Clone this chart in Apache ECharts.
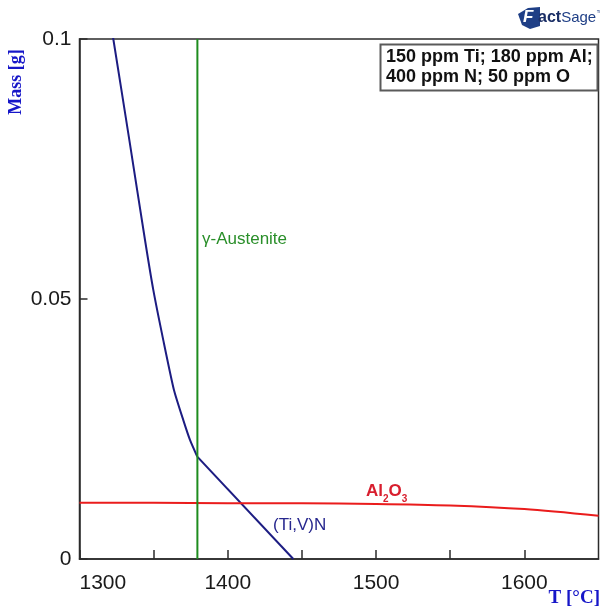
<!DOCTYPE html>
<html>
<head>
<meta charset="utf-8">
<script src="https://cdn.jsdelivr.net/npm/echarts@6/dist/echarts.min.js"></script>
<style>
  html, body { margin: 0; padding: 0; background: #fff; }
  #chart { width: 600px; height: 614px; }
</style>
</head>
<body>
<div id="chart"></div>
<script>
// Temperature axis ticks and mass axis ticks
const tempTicks = [1300, 1400, 1500, 1600];
const massTicks = [0, 0.05, 0.1];

// (Ti,V)N precipitate mass vs temperature [°C, g], above the austenite boundary
const tivnHighT    = [1320,  1322.8, 1333.6, 1344.2, 1349.8, 1356.5, 1363.7, 1370.0, 1374.5, 1379.4];
const tivnHighMass = [0.105, 0.1,    0.0806, 0.0613, 0.0517, 0.0421, 0.0325, 0.0267, 0.0229, 0.0197];
// ... and below it
const tivnLowT    = [1379.4, 1444.2];
const tivnLowMass = [0.0197, 0];

// Al2O3 inclusion mass vs temperature
const aloT    = [1300,   1350,   1400,   1450,   1500,   1550,   1600,   1650];
const aloMass = [0.0108, 0.0108, 0.0107, 0.0107, 0.0106, 0.0103, 0.0096, 0.0083];

// gamma-austenite boundary temperature
const austeniteT = 1379.5;
const austeniteSpan = [0, 0.1];

const pairs = (xs, ys) => xs.map((x, i) => [x, ys[i]]);

const chart = echarts.init(document.getElementById('chart'));
const axisColor = '#2b2b2b';
const titleBlue = '#1616c8';
const navy = '#1c1c82';

chart.setOption({
  animation: false,
  grid: { left: 79.5, right: 1.5, top: 39, bottom: 55, show: true, borderColor: axisColor, borderWidth: 1.5 },
  xAxis: {
    type: 'value', min: 1300, max: 1650, interval: 50,
    axisLine: { lineStyle: { color: axisColor, width: 1.5 } },
    axisTick: { inside: true, length: 9, lineStyle: { color: axisColor, width: 1.5 } },
    splitLine: { show: false },
    axisLabel: {
      showMaxLabel: false, alignMinLabel: 'left', margin: 14,
      fontFamily: 'Liberation Sans, Arial', fontSize: 21, color: '#1a1a1a',
      formatter: v => tempTicks.includes(v) ? String(v) : ''
    }
  },
  yAxis: {
    type: 'value', min: 0, max: 0.1, interval: 0.05,
    axisLine: { lineStyle: { color: axisColor, width: 1.5 } },
    axisTick: { inside: true, length: 8, lineStyle: { color: axisColor, width: 1.5 } },
    splitLine: { show: false },
    axisLabel: {
      margin: 8, fontFamily: 'Liberation Sans, Arial', fontSize: 21, color: '#1a1a1a',
      formatter: v => massTicks.includes(+v.toFixed(3)) ? String(+v.toFixed(3)) : ''
    }
  },
  series: [
    {
      name: '(Ti,V)N', type: 'line', showSymbol: false, symbol: 'none', clip: true,
      smooth: 0.2,
      lineStyle: { color: navy, width: 2 },
      data: pairs(tivnHighT, tivnHighMass)
    },
    {
      name: '(Ti,V)N', type: 'line', showSymbol: false, symbol: 'none', clip: true,
      lineStyle: { color: navy, width: 2 },
      data: pairs(tivnLowT, tivnLowMass)
    },
    {
      name: 'Al2O3', type: 'line', showSymbol: false, symbol: 'none', clip: true,
      smooth: 0.3,
      lineStyle: { color: '#ea1c1c', width: 2 },
      data: pairs(aloT, aloMass)
    },
    {
      name: 'γ-Austenite', type: 'line', showSymbol: false, symbol: 'none', clip: true,
      lineStyle: { color: '#1e8c1e', width: 2 },
      data: austeniteSpan.map(m => [austeniteT, m])
    }
  ],
  graphic: [
    // phase labels
    { type: 'text', left: 202, top: 231, style: { text: 'γ-Austenite', fill: '#2a8f2a', font: '17px "Liberation Sans", Arial' } },
    { type: 'text', left: 273, top: 517, style: { text: '(Ti,V)N', fill: '#27278e', font: '17px "Liberation Sans", Arial' } },
    {
      type: 'text', left: 366, top: 483,
      style: {
        text: '{b|Al}{s|2}{b|O}{s|3}',
        rich: {
          b: { fill: '#d81e2e', font: 'bold 17px "Liberation Sans", Arial', verticalAlign: 'bottom' },
          s: { fill: '#d81e2e', font: 'bold 10px "Liberation Sans", Arial', verticalAlign: 'bottom', padding: [0, 0, -4, 0] }
        }
      }
    },
    // composition box
    {
      type: 'rect', shape: { x: 380.5, y: 44.5, width: 217, height: 46 },
      style: { fill: '#fff', stroke: '#5a5a5a', lineWidth: 2 }
    },
    {
      type: 'text', left: 386, top: 47,
      style: {
        text: '150 ppm Ti; 180 ppm Al;\n400 ppm N; 50 ppm O',
        fill: '#111', font: 'bold 18px "Liberation Sans", Arial', lineHeight: 20
      }
    },
    // axis titles
    {
      type: 'text', x: 16, y: 82, rotation: Math.PI / 2,
      style: { text: 'Mass [g]', fill: titleBlue, font: 'bold 18px "Liberation Serif", "Times New Roman", serif', align: 'center', verticalAlign: 'middle' }
    },
    {
      type: 'text', right: 0, top: 589,
      style: { text: 'T [°C]', fill: titleBlue, font: 'bold 19px "Liberation Serif", "Times New Roman", serif' }
    },
    // FactSage mark
    {
      type: 'polygon', shape: { points: [[518, 14], [528, 8], [540, 7], [540, 26], [530, 29], [522, 25]] },
      style: { fill: '#1f3f86' }
    },
    { type: 'text', left: 523, top: 9, style: { text: 'F', fill: '#fff', font: 'italic bold 17px "Liberation Sans", Arial' } },
    {
      type: 'text', x: 538, y: 10,
      style: {
        text: '{a|act}{b|Sage}{c|™}',
        rich: {
          a: { fill: '#1b2f66', font: 'bold 16px "Liberation Sans", Arial' },
          b: { fill: '#1f3f86', font: '15px "Liberation Sans Narrow", "Liberation Sans", Arial' },
          c: { fill: '#1f3f86', font: '7px "Liberation Sans", Arial', verticalAlign: 'top' }
        }
      }
    }
  ]
});
</script>
</body>
</html>
